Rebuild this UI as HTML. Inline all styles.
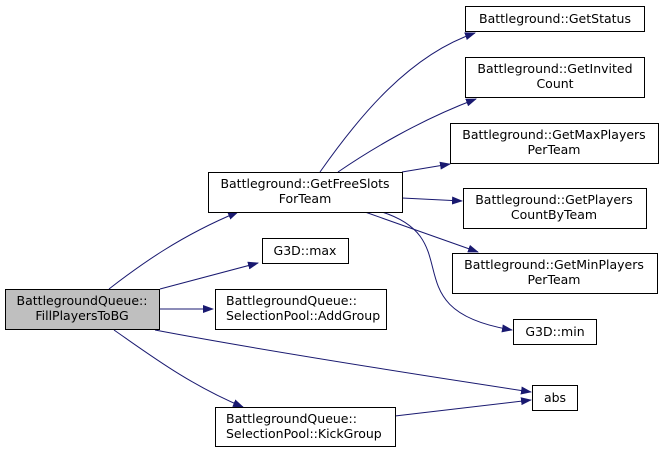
<!DOCTYPE html>
<html><head><meta charset="utf-8"><style>
html,body{margin:0;padding:0;background:#fff;}
svg{display:block;}
text{font-family:"DejaVu Sans","Liberation Sans",sans-serif;font-size:12.5px;fill:#000;}
</style></head><body>
<svg width="664" height="453" viewBox="0 0 664 453" xmlns="http://www.w3.org/2000/svg">
<defs><marker id="a" markerWidth="11" markerHeight="8" refX="10" refY="4" orient="auto" markerUnits="userSpaceOnUse"><path d="M0,0 L11,4 L0,8 z" fill="#191970"/></marker></defs>
<g fill="none" stroke="#191970" stroke-width="1" marker-end="url(#a)">
<path d="M109,289 C140,265 180,236 238,212"/>
<path d="M160,289 L258,263"/>
<path d="M160,309 L213,309"/>
<path d="M155,330 C260,350 420,375 531,392"/>
<path d="M114,330 C150,355 190,385 243,407"/>
<path d="M395,416 L531,400"/>
<path d="M320,172 C360,115 410,55 475,33"/>
<path d="M338,172 C370,150 420,120 476,99"/>
<path d="M402,172 L450,164"/>
<path d="M402,198 L462,201"/>
<path d="M365,212 L478,252"/>
<path d="M382,212 C470,240 390,310 512,330"/>
</g>
<g stroke="#000" stroke-width="1">
<rect x="5.5" y="289.5" width="154" height="40" fill="#bfbfbf"/>
<rect x="208.5" y="172.5" width="194" height="40" fill="#fff"/>
<rect x="262.5" y="238.5" width="86" height="25" fill="#fff"/>
<rect x="215.5" y="289.5" width="171" height="40" fill="#fff"/>
<rect x="215.5" y="407.5" width="180" height="39" fill="#fff"/>
<rect x="465.5" y="6.5" width="179" height="25" fill="#fff"/>
<rect x="465.5" y="57.5" width="179" height="40" fill="#fff"/>
<rect x="450.5" y="123.5" width="208" height="40" fill="#fff"/>
<rect x="463.5" y="188.5" width="183" height="40" fill="#fff"/>
<rect x="452.5" y="253.5" width="205" height="40" fill="#fff"/>
<rect x="513.5" y="319.5" width="83" height="25" fill="#fff"/>
<rect x="532.5" y="385.5" width="45" height="25" fill="#fff"/>
</g>
<g text-anchor="middle">
<text x="82" y="305">BattlegroundQueue::</text><text x="82" y="320">FillPlayersToBG</text>
<text x="305" y="188">Battleground::GetFreeSlots</text><text x="305" y="203">ForTeam</text>
<text x="305" y="255">G3D::max</text>
<text x="555" y="23">Battleground::GetStatus</text>
<text x="555" y="73">Battleground::GetInvited</text><text x="555" y="88">Count</text>
<text x="554" y="139">Battleground::GetMaxPlayers</text><text x="554" y="154">PerTeam</text>
<text x="554" y="204">Battleground::GetPlayers</text><text x="554" y="219">CountByTeam</text>
<text x="554" y="269">Battleground::GetMinPlayers</text><text x="554" y="284">PerTeam</text>
<text x="555" y="336">G3D::min</text>
<text x="555" y="402">abs</text>
</g>
<text x="226" y="305">BattlegroundQueue::</text><text x="226" y="320">SelectionPool::AddGroup</text>
<text x="226" y="423">BattlegroundQueue::</text><text x="226" y="438">SelectionPool::KickGroup</text>
</svg>
</body></html>
